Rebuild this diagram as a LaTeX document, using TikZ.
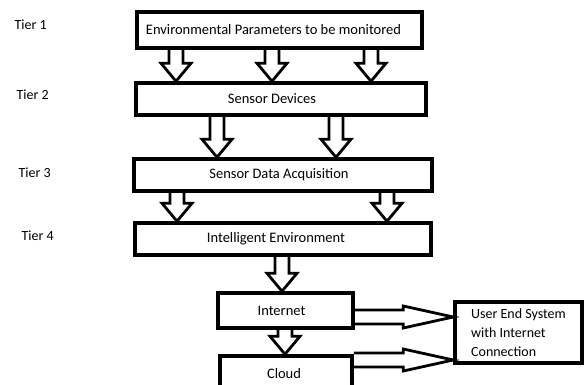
\documentclass[tikz,border=0pt]{standalone}
\usepackage{fontspec}
\setmainfont{Carlito}
\usepackage{tikz}
\usetikzlibrary{calc}

\begin{document}
\begin{tikzpicture}[x=1pt, y=-1pt,
        tierbox/.style = {rectangle, draw, line width=3.5pt, inner sep=0pt, font=\fontsize{14.5}{20}\selectfont},
        downarrow/.style = {line width=2.8pt, to path={let \p1=(\tikztostart), \p2=(\tikztotarget) in
            (\x1-7pt,\y1) -- (\x1-7pt,\y2+18pt) -- (\x1-15pt,\y2+18pt) -- (\x1,\y2)
            -- (\x1+15pt,\y2+18pt) -- (\x1+7pt,\y2+18pt) -- (\x1+7pt,\y1)}},
        rightarrow/.style = {line width=2.8pt, to path={let \p1=(\tikztostart), \p2=(\tikztotarget) in
            (\x1,\y1+7pt) -- (\x2-50pt,\y1+7pt) -- (\x2-50pt,\y1+11pt) -- (\x2,\y1)
            -- (\x2-50pt,\y1-11pt) -- (\x2-50pt,\y1-7pt) -- (\x1,\y1-7pt)}},
        tierlabel/.style = {anchor=west, font=\fontsize{14}{16}\selectfont}]
        \useasboundingbox (0,0) rectangle (586,385);
        \begin{scope}
            % tier labels on the left
            \node [tierlabel] (t1) at (11,25) {Tier 1};
            \node [tierlabel] (t2) at (13,95) {Tier 2};
            \node [tierlabel] (t3) at (15,173) {Tier 3};
            \node [tierlabel] (t4) at (18,236) {Tier 4};

            % the four tiers
            \node [tierbox, minimum width=285pt, minimum height=36pt] (env) at (279.5,30) {Environmental Parameters to be monitored\hspace*{12pt}};
            \node [tierbox, minimum width=290pt, minimum height=32pt] (sens) at (281,99) {Sensor Devices\hspace*{18pt}};
            \node [tierbox, minimum width=298pt, minimum height=32pt] (acq) at (283,175) {Sensor Data Acquisition\hspace*{8pt}};
            \node [tierbox, minimum width=296pt, minimum height=32pt] (intel) at (283,239) {Intelligent Environment\hspace*{14pt}};

            % internet, cloud and the user end
            \node [tierbox, minimum width=135pt, minimum height=35pt] (inet) at (285.5,310.5) {Internet\hspace*{8pt}};
            \node [tierbox, minimum width=132pt, minimum height=36pt] (cloud) at (286,374) {Cloud\hspace*{4pt}};
            \node [tierbox, minimum width=127pt, minimum height=61pt, align=left, font=\fontsize{14}{19}\selectfont] (user) at (518.5,332.5) {User End System\\with Internet\\Connection\hspace*{12pt}};

            \foreach \ax in {176,272,371}
                \draw [downarrow] (\ax,0 |- env.south) to (\ax,0 |- sens.north);
            \foreach \ax in {217,336}
                \draw [downarrow] (\ax,0 |- sens.south) to (\ax,0 |- acq.north);
            \foreach \ax in {177,387}
                \draw [downarrow] (\ax,0 |- acq.south) to (\ax,0 |- intel.north);
            \draw [downarrow] (282,0 |- intel.south) to (282,0 |- inet.north);
            \draw [downarrow] (285,0 |- inet.south) to (285,0 |- cloud.north);
            \draw [rightarrow] (inet.east |- 0,317) to (user.west |- 0,317);
            \draw [rightarrow] (cloud.east |- 0,360) to (user.west |- 0,360);
        \end{scope}
    \end{tikzpicture}
\end{document}
